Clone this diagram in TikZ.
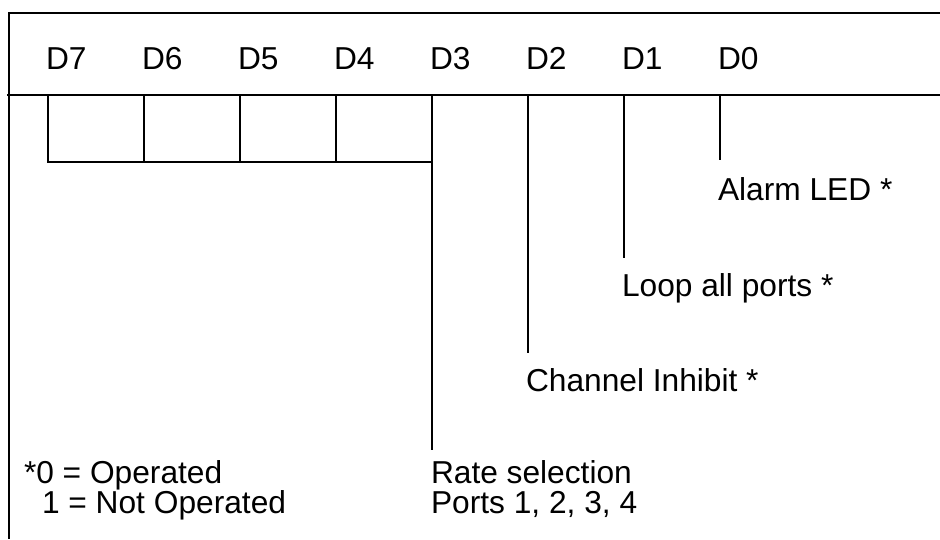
\documentclass[tikz,border=0pt]{standalone}
\usepackage{fontspec}
\setmainfont{Liberation Sans}
\usepackage{tikz}

\begin{document}
\begin{tikzpicture}[x=1pt,y=-1pt,line width=2pt,
  every node/.style={inner sep=0pt,font=\fontsize{31.7}{30}\selectfont},
  bitlabel/.style={anchor=base west},
  desc/.style={anchor=north west,align=left}]
\useasboundingbox (0,0) rectangle (940,539);

% Frame: top edge, left edge and the rule under the bit names.
\draw (940,13) -- (9,13) -- (9,539);
\draw (7,95) -- (940,95);
\coordinate (base) at (0,162);

% Bit names, and the point on the rule under each one.
\foreach \b [count=\i from 0] in {7,6,...,0} {
  \node[bitlabel] (D\b) at (45+96*\i,69) {D\b};
  \coordinate (b\b) at (48+96*\i,95);
}

% D7..D4 boxes, joined into the D3 line.
\draw (b7) |- (b3 |- base);
\foreach \b in {6,5,4}
  \draw (b\b) -- (b\b |- base);

% What each bit does.
\node[desc] (alarm) at (717,177) {Alarm LED *};
\node[desc] (loop) at (621,273) {Loop all ports *};
\node[desc] (inhibit) at (525,368) {Channel Inhibit *};
\node[desc] (rate) at (430,460) {Rate selection\\Ports 1, 2, 3, 4};
\node[desc] (legend) at (23,460) {*0 = Operated\\\hspace*{18pt}1 = Not Operated};

\foreach \b/\n/\g in {0/alarm/17,1/loop/15,2/inhibit/15,3/rate/10}
  \draw[shorten >=\g pt] (b\b) -- (b\b |- \n.north);
\end{tikzpicture}
\end{document}
